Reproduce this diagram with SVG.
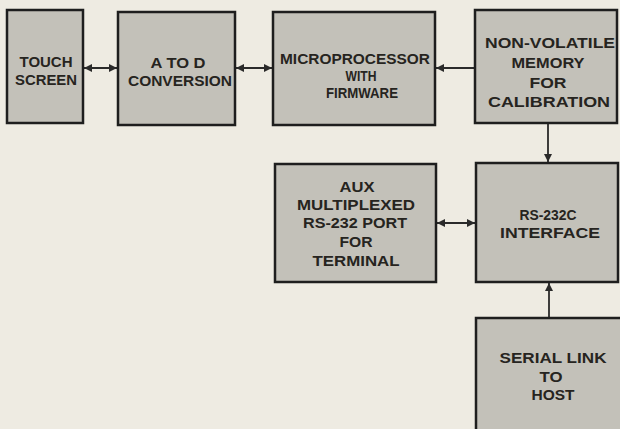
<svg xmlns="http://www.w3.org/2000/svg" width="620" height="429" viewBox="0 0 620 429">
<defs>
<style>
.box{fill:#c3c1b9;stroke:#1e1e1e;stroke-width:2.5}
.t{font-family:"Liberation Sans",Arial,sans-serif;font-weight:bold;font-size:15.5px;fill:#262420;text-anchor:middle}
.c{stroke:#2a2a2a;stroke-width:1.8;fill:none}
</style>
<marker id="ah" viewBox="0 0 10 10" refX="10" refY="5" markerWidth="10" markerHeight="8" markerUnits="userSpaceOnUse" orient="auto-start-reverse">
<path d="M0,0 L10,5 L0,10 Z" fill="#2a2a2a"/>
</marker>
</defs>
<rect width="620" height="429" fill="#eeebe2"/>
<g id="connectors">
<line class="c" x1="84" y1="68" x2="117" y2="68" marker-start="url(#ah)" marker-end="url(#ah)"/>
<line class="c" x1="236" y1="68" x2="272" y2="68" marker-start="url(#ah)" marker-end="url(#ah)"/>
<line class="c" x1="475" y1="68" x2="436" y2="68" marker-end="url(#ah)"/>
<line class="c" x1="548" y1="123" x2="548" y2="162" marker-end="url(#ah)"/>
<line class="c" x1="437" y1="223" x2="475" y2="223" marker-start="url(#ah)" marker-end="url(#ah)"/>
<line class="c" x1="549" y1="318" x2="549" y2="283" marker-end="url(#ah)"/>
</g>
<g id="touch-screen">
<rect class="box" x="7" y="10" width="76" height="113"/>
<text class="t" x="46" y="67" textLength="53" lengthAdjust="spacingAndGlyphs">TOUCH</text>
<text class="t" x="46" y="85" textLength="62" lengthAdjust="spacingAndGlyphs">SCREEN</text>
</g>
<g id="a-to-d">
<rect class="box" x="118" y="12" width="117" height="113"/>
<text class="t" x="178" y="68" textLength="55" lengthAdjust="spacingAndGlyphs">A TO D</text>
<text class="t" x="180" y="86" textLength="104" lengthAdjust="spacingAndGlyphs">CONVERSION</text>
</g>
<g id="microprocessor">
<rect class="box" x="273" y="12" width="162" height="113"/>
<text class="t" x="355" y="64" textLength="150" lengthAdjust="spacingAndGlyphs">MICROPROCESSOR</text>
<text class="t" x="361" y="81" textLength="31" lengthAdjust="spacingAndGlyphs">WITH</text>
<text class="t" x="362" y="98" textLength="72" lengthAdjust="spacingAndGlyphs">FIRMWARE</text>
</g>
<g id="non-volatile">
<rect class="box" x="475" y="10" width="142" height="113"/>
<text class="t" x="550" y="48" textLength="130" lengthAdjust="spacingAndGlyphs">NON-VOLATILE</text>
<text class="t" x="548" y="68" textLength="73" lengthAdjust="spacingAndGlyphs">MEMORY</text>
<text class="t" x="548" y="88" textLength="37" lengthAdjust="spacingAndGlyphs">FOR</text>
<text class="t" x="549" y="107" textLength="122" lengthAdjust="spacingAndGlyphs">CALIBRATION</text>
</g>
<g id="aux-port">
<rect class="box" x="275" y="164" width="161" height="118"/>
<text class="t" x="357" y="192" textLength="35" lengthAdjust="spacingAndGlyphs">AUX</text>
<text class="t" x="356" y="210" textLength="118" lengthAdjust="spacingAndGlyphs">MULTIPLEXED</text>
<text class="t" x="355" y="228" textLength="104" lengthAdjust="spacingAndGlyphs">RS-232 PORT</text>
<text class="t" x="356" y="247" textLength="33" lengthAdjust="spacingAndGlyphs">FOR</text>
<text class="t" x="356" y="266" textLength="87" lengthAdjust="spacingAndGlyphs">TERMINAL</text>
</g>
<g id="rs232c">
<rect class="box" x="476" y="163" width="142" height="119"/>
<text class="t" x="548" y="220" textLength="57" lengthAdjust="spacingAndGlyphs">RS-232C</text>
<text class="t" x="550" y="238" textLength="100" lengthAdjust="spacingAndGlyphs">INTERFACE</text>
</g>
<g id="serial-link">
<rect class="box" x="476" y="318" width="150" height="120"/>
<text class="t" x="553" y="363" textLength="107" lengthAdjust="spacingAndGlyphs">SERIAL LINK</text>
<text class="t" x="551" y="382" textLength="23" lengthAdjust="spacingAndGlyphs">TO</text>
<text class="t" x="553" y="400" textLength="43" lengthAdjust="spacingAndGlyphs">HOST</text>
</g>
</svg>
